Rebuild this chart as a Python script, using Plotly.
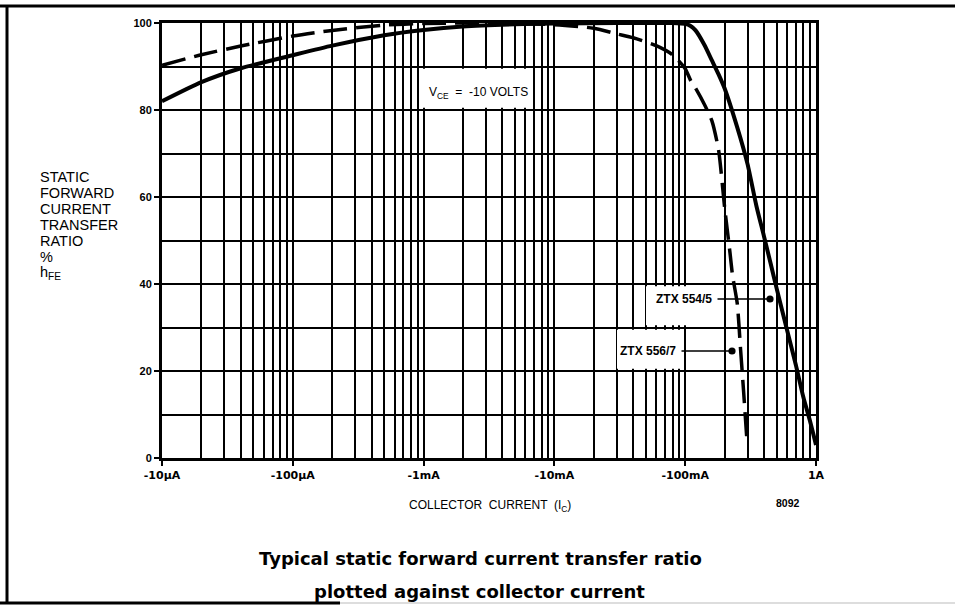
import plotly.graph_objects as go

# ---------------- data ----------------
# collector current magnitude (A)
current_554 = [1e-5, 2e-5, 4e-5, 1e-4, 2e-4, 5e-4, 1e-3, 2e-3, 5e-3, 1e-2, 3e-2, 8e-2,
               0.1, 0.11, 0.12, 0.14, 0.16, 0.18, 0.2, 0.25, 0.3, 0.35, 0.4, 0.45,
               0.5, 0.6, 0.7, 0.8, 0.9, 1.0]
hfe_554 = [82, 86.4, 89.6, 92.6, 94.8, 97.2, 98.4, 99.2, 99.7, 99.9, 100, 100,
           99.8, 99.3, 98.3, 95, 91.4, 88.2, 85, 76, 67.5, 58, 51, 44.7,
           39, 29.5, 21.5, 14, 8.5, 3]

current_556 = [1e-5, 2e-5, 4e-5, 1e-4, 2e-4, 5e-4, 1e-3, 3e-3, 1e-2, 2e-2, 3e-2, 4e-2,
               6e-2, 8e-2, 0.1, 0.11, 0.12, 0.14, 0.16, 0.18, 0.2, 0.22, 0.23,
               0.25, 0.265, 0.28, 0.295]
hfe_556 = [90.3, 92.7, 94.7, 97, 98.3, 99.5, 99.9, 100, 99.6, 98.8, 97.5, 96.6,
           94.8, 92.7, 89.5, 86.8, 85, 81.3, 77.5, 70.8, 57.7, 47.2, 42,
           35.5, 25, 15, 5]

x_tickvals = [1e-5, 1e-4, 1e-3, 1e-2, 1e-1, 1]
x_ticktext = ["-10\u00b5A", "-100\u00b5A", "-1mA", "-10mA", "-100mA", "1A"]
x_minor = [k * 10.0 ** d for d in range(-5, 0) for k in range(2, 10)]
y_tickvals = [0, 20, 40, 60, 80, 100]
y_minor = [10, 30, 50, 70, 90]
y_title_lines = ["STATIC", "FORWARD", "CURRENT", "TRANSFER", "RATIO", "%", "h<sub>FE</sub>"]

# ---------------- layout geometry ----------------
W, H = 955, 605
L, R, T, B = 162, 816, 23, 458


def px(x):
    return (x - L) / (R - L)


def py(y):
    return (B - y) / (B - T)


FONT = "Liberation Sans"
WIDE = "DejaVu Sans"

fig = go.Figure()
fig.add_trace(go.Scatter(x=current_554, y=hfe_554, mode="lines", name="ZTX 554/5",
                         line=dict(color="black", width=4, shape="spline", smoothing=0.6),
                         cliponaxis=True))
fig.add_trace(go.Scatter(x=current_556, y=hfe_556, mode="lines", name="ZTX 556/7",
                         line=dict(color="black", width=3.5, dash="24px,9px",
                                   shape="spline", smoothing=0.6),
                         cliponaxis=True))

fig.update_layout(
    width=W, height=H,
    margin=dict(l=L, r=W - R, t=T, b=H - B),
    paper_bgcolor="white", plot_bgcolor="white",
    showlegend=False,
    font=dict(family=FONT, color="black"),
)
fig.update_xaxes(
    type="log", range=[-5, 0],
    tickvals=x_tickvals, ticktext=x_ticktext,
    tickfont=dict(family=WIDE, size=11, color="black", weight="bold"),
    ticks="outside", ticklen=5, tickwidth=2, tickcolor="black",
    showgrid=True, gridcolor="black", gridwidth=2,
    minor=dict(tickvals=x_minor, showgrid=True, gridcolor="black", gridwidth=2, ticklen=0),
    showline=True, linecolor="black", linewidth=3, mirror=True,
    zeroline=False,
)
fig.update_yaxes(
    range=[0, 100],
    tickvals=y_tickvals,
    tickfont=dict(family=FONT, size=11, color="black", weight="bold"),
    ticks="outside", ticklen=5, tickwidth=2, tickcolor="black",
    showgrid=True, gridcolor="black", gridwidth=2,
    minor=dict(tickvals=y_minor, showgrid=True, gridcolor="black", gridwidth=2, ticklen=0),
    showline=True, linecolor="black", linewidth=3, mirror=True,
    zeroline=False,
)

shapes = []
# white label boxes (they do not touch the curves)
for x0, x1, y0, y1 in [(423, 532, 80.5, 89.5), (646, 722, 30.5, 39.5), (617, 681, 20.5, 29.5)]:
    shapes.append(dict(type="rect", xref="paper", yref="y", x0=px(x0), x1=px(x1),
                       y0=y0, y1=y1, fillcolor="white", line=dict(width=0), layer="above"))
# page frame
shapes.append(dict(type="line", xref="paper", yref="paper", x0=px(0), x1=px(955),
                   y0=py(6), y1=py(6), line=dict(color="black", width=3)))
shapes.append(dict(type="line", xref="paper", yref="paper", x0=px(7), x1=px(7),
                   y0=py(5), y1=py(604), line=dict(color="black", width=3)))
shapes.append(dict(type="line", xref="paper", yref="paper", x0=px(0), x1=px(340),
                   y0=py(603), y1=py(603), line=dict(color="black", width=3)))
shapes.append(dict(type="line", xref="paper", yref="paper", x0=px(340), x1=px(955),
                   y0=py(603), y1=py(603), line=dict(color="#bbbbbb", width=1)))
fig.update_layout(shapes=shapes)

annotations = [
    dict(text="V<sub>CE</sub>  =  -10 VOLTS", xref="paper", yref="paper",
         x=px(427), y=py(93), xanchor="left", yanchor="middle", showarrow=False,
         font=dict(size=12, family=FONT)),
    dict(text="COLLECTOR  CURRENT  (I<sub>C</sub>)", xref="paper", yref="paper",
         x=px(490), y=py(506), xanchor="center", yanchor="middle", showarrow=False,
         font=dict(size=12, family=FONT)),
    dict(text="8092", xref="paper", yref="paper", x=px(788), y=py(503),
         xanchor="center", yanchor="middle", showarrow=False,
         font=dict(size=10.5, family=FONT, weight="bold")),
    dict(text="Typical static forward current transfer ratio", xref="paper", yref="paper",
         x=px(480), y=py(558), xanchor="center", yanchor="middle", showarrow=False,
         font=dict(size=18, family=WIDE, weight="bold")),
    dict(text="plotted against collector current", xref="paper", yref="paper",
         x=px(479), y=py(591), xanchor="center", yanchor="middle", showarrow=False,
         font=dict(size=18, family=WIDE, weight="bold")),
    # curve labels
    dict(text="ZTX 554/5", xref="paper", yref="paper", x=px(714), y=py(299),
         xanchor="right", yanchor="middle", showarrow=False,
         font=dict(size=12, family=FONT, weight="bold")),
    dict(text="ZTX 556/7", xref="paper", yref="paper", x=px(678), y=py(351),
         xanchor="right", yanchor="middle", showarrow=False,
         font=dict(size=12, family=FONT, weight="bold")),
    # leader lines with dot ends
    dict(text="", xref="paper", yref="paper", x=px(770), y=py(299),
         ax=716 - 770, ay=0, axref="pixel", ayref="pixel",
         showarrow=True, arrowhead=6, arrowsize=1.2, arrowwidth=1.5, arrowcolor="black",
         standoff=0),
    dict(text="", xref="paper", yref="paper", x=px(732), y=py(351),
         ax=680 - 732, ay=0, axref="pixel", ayref="pixel",
         showarrow=True, arrowhead=6, arrowsize=1.2, arrowwidth=1.5, arrowcolor="black",
         standoff=0),
]
for i, line in enumerate(y_title_lines):
    annotations.append(dict(text=line, xref="paper", yref="paper",
                            x=px(38), y=py(177 + 16 * i), xanchor="left", yanchor="middle",
                            showarrow=False, font=dict(size=14.5, family=FONT)))
fig.update_layout(annotations=annotations)

fig.write_html("out.html", config={"displayModeBar": False},
               post_script="document.body.style.margin='0';document.body.style.overflow='hidden';")
